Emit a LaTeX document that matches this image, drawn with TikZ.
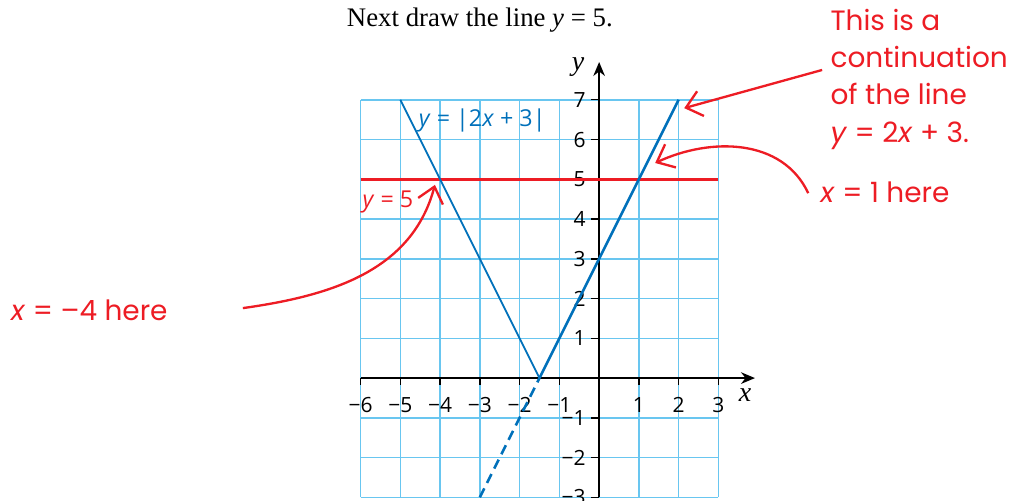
\documentclass[tikz,border=0pt]{standalone}
\usepackage{fontspec}
\setmainfont{Liberation Serif}
\setsansfont{Open Sans}
\newfontfamily\handfont{Poppins}
\usetikzlibrary{arrows.meta}

\definecolor{gridblue}{RGB}{105,198,240}
\definecolor{lineblue}{RGB}{0,112,186}
\definecolor{notered}{RGB}{237,28,36}

\begin{document}
\begin{tikzpicture}[
    x=0.6cm, y=0.6cm,
    % Estilos
    grid line/.style={gridblue, line width=0.7pt},
    axis line/.style={-{Stealth[length=6pt, width=5pt]}, line width=0.6pt, black},
    tick mark/.style={line width=0.6pt, black},
    tick label/.style={font=\sffamily\small, inner sep=0pt},
    graph abs/.style={lineblue, line width=0.8pt},
    graph cont/.style={lineblue, line width=1.1pt},
    graph dash/.style={lineblue, line width=1.1pt, dash pattern=on 4.3pt off 2.6pt},
    graph five/.style={notered, line width=1.1pt},
    note text/.style={notered, font=\handfont\fontsize{12}{16}\selectfont, align=left, inner sep=0pt},
    note arrow/.style={notered, line width=1pt, -{Straight Barb[length=6.5pt, width=11pt]}}
]
    \useasboundingbox (-15.07,-3.09) rectangle (10.36,9.51);

    % =========================================================================
    % 1. Cuadricula y ejes
    % =========================================================================
    \foreach \i in {-6,...,3} {
        \draw[grid line] (\i,-3) -- (\i,7);
    }
    \foreach \j in {-3,...,7} {
        \draw[grid line] (-6,\j) -- (3,\j);
    }
    \coordinate (xstart) at (-6,0);
    \coordinate (xend) at (3.92,0);
    \coordinate (ystart) at (0,-3);
    \coordinate (yend) at (0,7.95);
    \draw[axis line] (xstart) -- (xend);
    \draw[axis line] (ystart) -- (yend);
    \node[font=\itshape\large] (xlab) at (3.67,-0.43) {x};
    \node[font=\itshape\large] (ylab) at (-0.53,7.82) {y};

    % Marcas y numeros
    \foreach \i in {-6,...,-1,1,2,3} {
        \draw[tick mark] (\i,0) -- (\i,-0.18);
        \node[tick label] (xt\i) at (\i,-0.68) {\ifnum\i<0 −\number\numexpr-\i\relax\else\i\fi};
    }
    \foreach \j in {-3,...,-1,1,2,...,7} {
        \draw[tick mark] (0,\j) -- (-0.2,\j);
        \node[tick label, anchor=east] (yt\j) at (-0.33,\j) {\ifnum\j<0 −\number\numexpr-\j\relax\else\j\fi};
    }

    % =========================================================================
    % 2. Graficas
    % =========================================================================
    \coordinate (fL) at (-6,5);
    \coordinate (fR) at (3,5);
    \coordinate (vL) at (-5,7);
    \coordinate (vmin) at (-1.5,0);
    \coordinate (vR) at (2,7);
    \coordinate (vdash) at (-3,-3);
    \draw[graph five] (fL) -- (fR);
    \draw[graph abs] (vL) -- (vmin);
    \draw[graph cont] (vmin) -- (vR);
    \draw[graph dash] (vdash) -- (vmin);

    \node[lineblue, font=\sffamily] (absname) at (-2.94,6.49) {\textit{y} = |2\textit{x} + 3|};
    \node[notered, font=\sffamily] (fivename) at (-5.31,4.43) {\textit{y} = 5};

    % Titulo
    \node[font=\fontsize{11.5}{14}\selectfont] (title) at (-3.0,9.0) {Next draw the line \textit{y} = 5.};

    % =========================================================================
    % 3. Notas a mano
    % =========================================================================
    \node[note text, anchor=west] (notecont) at (5.81,7.52) {This is a\\continuation\\of the line\\\textit{y} = 2\textit{x} + 3.};
    \node[note text, anchor=west] (noteone) at (5.56,4.68) {\textit{x} = 1 here};
    \node[note text, anchor=west] (notefour) at (-14.8,1.71) {\textit{x} = –4 here};

    \coordinate (contfrom) at (5.61,7.75);
    \coordinate (contto) at (2.14,6.79);
    \coordinate (onefrom) at (5.26,4.65);
    \coordinate (oneto) at (1.41,5.41);
    \coordinate (fourfrom) at (-8.96,1.76);
    \coordinate (fourto) at (-4.13,4.86);

    \draw[note arrow] (contfrom) -- (contto);
    \draw[note arrow] (onefrom) to[out=115, in=25] (oneto);
    \draw[note arrow] (fourfrom) to[out=8, in=-105] (fourto);

\end{tikzpicture}
\end{document}
